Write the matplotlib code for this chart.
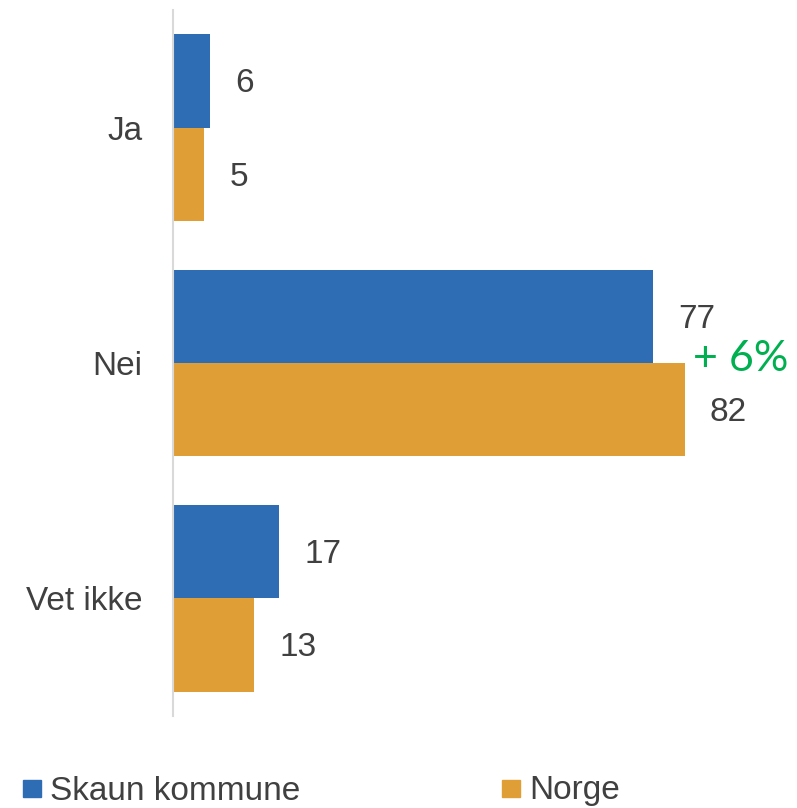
import matplotlib
matplotlib.use("Agg")
import matplotlib.pyplot as plt
from matplotlib.patches import Rectangle
import numpy as np

categories = ["Ja", "Nei", "Vet ikke"]
skaun = [6, 77, 17]
norge = [5, 82, 13]
series_names = ["Skaun kommune", "Norge"]
annotation = "+ 6%"

blue = "#2E6DB4"
orange = "#E09E36"
txt = "#404040"

plt.rcParams['font.family'] = ['Liberation Sans', 'DejaVu Sans']

fig = plt.figure(figsize=(7.97, 8.08), dpi=100)
W, H = 797, 808
ax = fig.add_axes([173 / W, (H - 716) / H, 1 - 173 / W, 706 / H])

y = np.arange(len(categories))
h = 0.396
ax.barh(y - h / 2, skaun, height=h, color=blue)
ax.barh(y + h / 2, norge, height=h, color=orange)

for yi, v in zip(y, skaun):
    ax.annotate(str(v), (v, yi - h / 2), xytext=(18, -2), textcoords="offset points",
                va="center", ha="left", fontsize=24, color=txt)
for yi, v in zip(y, norge):
    ax.annotate(str(v), (v, yi + h / 2), xytext=(18, -2), textcoords="offset points",
                va="center", ha="left", fontsize=24, color=txt)

ax.annotate(annotation, (norge[1], 1), xytext=(6, 3), textcoords="offset points",
            va="center", ha="left", fontsize=31, color="#00B050", family="Lato")

ax.set_xlim(0, 100)
ax.set_ylim(2.5, -0.5)
ax.set_yticks(y)
ax.set_yticklabels(categories, fontsize=24, color=txt)
ax.tick_params(axis="y", length=0, pad=22)
ax.set_xticks([])
for s in ["top", "right", "bottom"]:
    ax.spines[s].set_visible(False)
ax.spines["left"].set_color("#D9D9D9")
ax.spines["left"].set_linewidth(1.5)

# legend (figure pixel coordinates)
leg_items = [(23, blue, series_names[0]), (502, orange, series_names[1])]
for x0, col, name in leg_items:
    fig.add_artist(Rectangle((x0 / W, 1 - 797 / H), 18 / W, 17 / H,
                             transform=fig.transFigure, color=col))
    fig.text((x0 + 27) / W, 1 - 791 / H, name, fontsize=24, color=txt,
             va="center", ha="left")

fig.savefig("out.png", dpi=100)
